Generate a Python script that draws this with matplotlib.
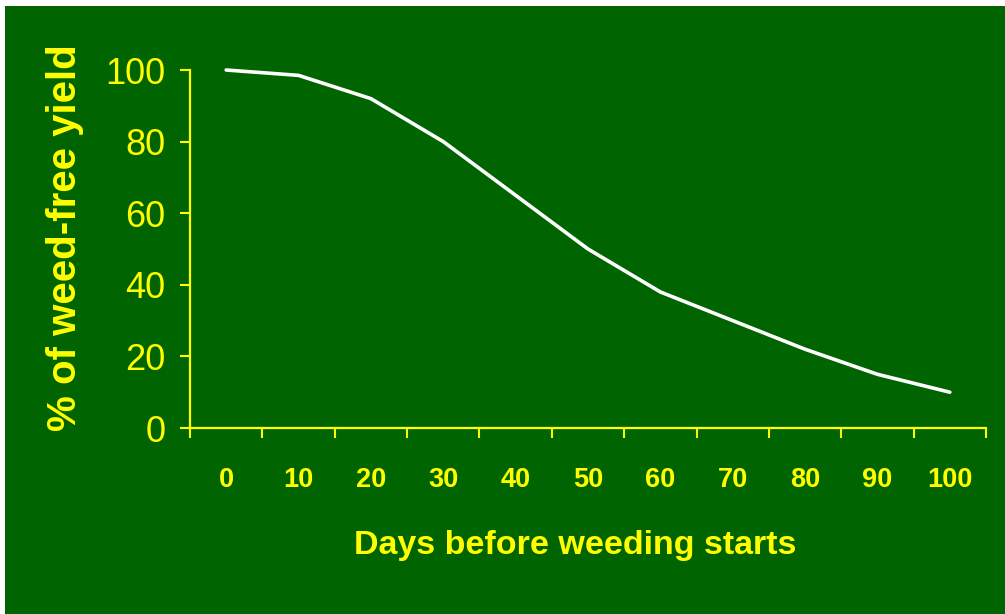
import matplotlib
matplotlib.use("Agg")
import matplotlib.pyplot as plt
from matplotlib.patches import Rectangle
from matplotlib import font_manager
import numpy as np

days = ["0", "10", "20", "30", "40", "50", "60", "70", "80", "90", "100"]
yield_pct = [100, 98.5, 92, 80, 65, 50, 38, 30, 22, 15, 10]
y_ticks = [0, 20, 40, 60, 80, 100]

GREEN = "#006400"
YELLOW = "#FFFF00"

names = {f.name for f in font_manager.fontManager.ttflist}
narrow = "Liberation Sans Narrow" in names
plt.rcParams['font.family'] = (['Liberation Sans Narrow', 'DejaVu Sans'] if narrow
                               else ['Liberation Sans', 'DejaVu Sans'])
k = 1.17 if narrow else 1.0   # taller glyphs when a narrow face is available

fig = plt.figure(figsize=(10.05, 6.14), dpi=100, facecolor="white")
# green panel leaving a thin white margin at top and left
fig.patches.append(Rectangle((5 / 1005, 0), 1 - 5 / 1005, 1 - 6 / 614,
                             transform=fig.transFigure, facecolor=GREEN,
                             edgecolor="none", zorder=-10))

ax = fig.add_axes([190 / 1005, (614 - 428) / 614, 796 / 1005, 358 / 614])
ax.set_facecolor("none")
ax.set_zorder(5)

x = np.arange(len(days))
ax.plot(x, yield_pct, color="white", lw=2.6, solid_capstyle="round",
        solid_joinstyle="round", clip_on=False)

ax.set_xlim(-0.5, len(days) - 0.5)
ax.set_ylim(0, 100)

for s in ["top", "right"]:
    ax.spines[s].set_visible(False)
for s in ["left", "bottom"]:
    ax.spines[s].set_color(YELLOW)
    ax.spines[s].set_linewidth(1.6)

# category boundaries as tick marks
ax.set_xticks(np.arange(-0.5, len(days), 1.0))
ax.set_xticklabels([])
ax.set_xticks(x, minor=True)
ax.set_xticklabels(days, minor=True, fontsize=19.5 * k, fontweight="bold",
                   color=YELLOW)
ax.tick_params(axis="x", which="major", direction="out", length=7.5,
               width=1.5, color=YELLOW)
ax.tick_params(axis="x", which="minor", length=0, pad=28 if not narrow else 25)

ax.set_yticks(y_ticks)
ax.set_yticklabels([str(v) for v in y_ticks], fontsize=26 * k, color=YELLOW)
ax.tick_params(axis="y", direction="out", length=7.5, width=1.5,
               color=YELLOW, pad=10)

ax.set_xlabel("Days before weeding starts", fontsize=24.5 * k, fontweight="bold",
              color=YELLOW, va="center")
ax.xaxis.set_label_coords(0.484, -0.327)
ax.set_ylabel("% of weed-free yield", fontsize=29, fontweight="bold",
              color=YELLOW, va="center",
              family=['Liberation Sans', 'DejaVu Sans'])
ax.yaxis.set_label_coords(-0.157, 0.531)

fig.savefig("out.png", dpi=100, facecolor="white")
